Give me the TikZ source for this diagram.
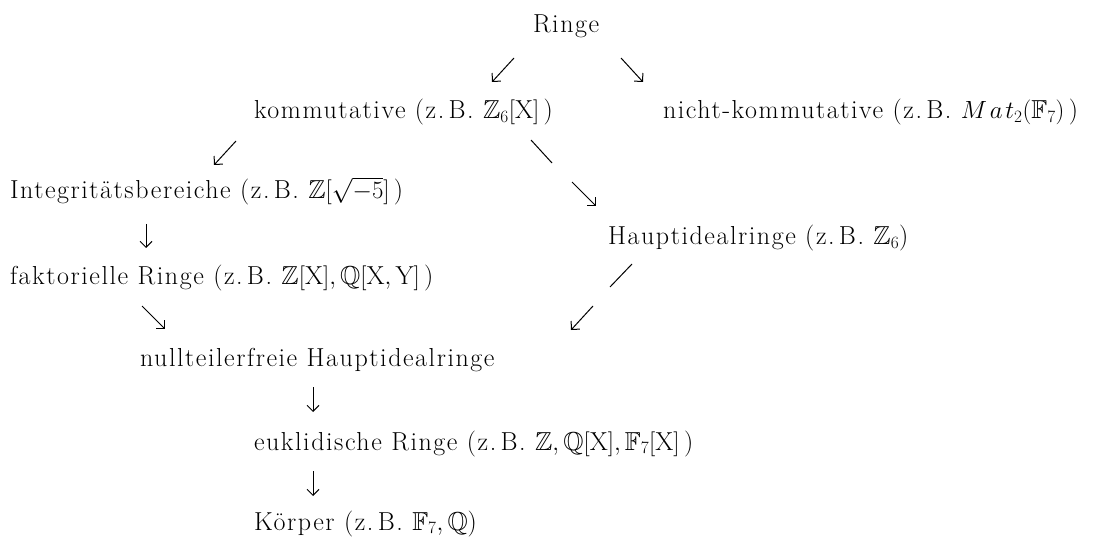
\documentclass[tikz,border=0pt]{standalone}
\usepackage{amsmath,amssymb}
\usepackage{fontspec}
\setmainfont{Latin Modern Roman}[LetterSpace=6]
\usetikzlibrary{arrows.meta}
\tikzset{
  lbl/.style={inner sep=0pt, outer sep=0pt, anchor=base west,
    font=\fontsize{26}{30}\selectfont},
  arr/.style={line width=1pt, -{Straight Barb[length=6pt,width=12pt]}},
  bar/.style={line width=1pt}
}
\begin{document}
\begin{tikzpicture}[x=1pt,y=-1pt]
\useasboundingbox (0,0) rectangle (1105,537);

% ring classes
\node[lbl] (ringe) at (533,33) {Ringe};
\node[lbl] (komm) at (254,119) {kommutative (z.\,B. $\mathbb{Z}_6[\mathrm{X}]$\,)};
\node[lbl] (nkomm) at (663,119) {nicht-kommutative (z.\,B. $M\mkern2mu a\mkern2mu t_2(\mathbb{F}_7)$\,)};
\node[lbl] (integ) at (10,199) {Integritätsbereiche (z.\,B. $\mathbb{Z}[\sqrt{-5}]$\,)};
\node[lbl] (hir) at (608,245) {Hauptidealringe (z.\,B. $\mathbb{Z}_6$)};
\node[lbl] (fakt) at (10,284) {faktorielle Ringe (z.\,B. $\mathbb{Z}[\mathrm{X}],\mathbb{Q}[\mathrm{X},\mathrm{Y}]$\,)};
\node[lbl] (nhir) at (140,366) {nullteilerfreie Hauptidealringe};
\node[lbl] (eukl) at (254,450) {euklidische Ringe (z.\,B. $\mathbb{Z},\mathbb{Q}[\mathrm{X}],\mathbb{F}_7[\mathrm{X}]$\,)};
\node[lbl] (koerp) at (254,530) {Körper (z.\,B. $\mathbb{F}_7,\mathbb{Q}$)};

% connector end points
\coordinate (r-k1) at (514,58);   \coordinate (r-k2) at (492,82);
\coordinate (r-n1) at (621,58);   \coordinate (r-n2) at (643,82);
\coordinate (k-i1) at (236,141);  \coordinate (k-i2) at (214,165);
\coordinate (k-h1) at (531,140);  \coordinate (k-h2) at (552,163);
\coordinate (k-h3) at (572,182);  \coordinate (k-h4) at (596,206);
\coordinate (i-f1) at (146,224);  \coordinate (i-f2) at (146,248);
\coordinate (h-n1) at (632,264);  \coordinate (h-n2) at (610,287);
\coordinate (h-n3) at (593,306);  \coordinate (h-n4) at (571,330);
\coordinate (f-n1) at (142,306);  \coordinate (f-n2) at (165,329);
\coordinate (n-e1) at (313,387);  \coordinate (n-e2) at (313,412);
\coordinate (e-k1) at (313,471);  \coordinate (e-k2) at (313,496);

% inclusions
\draw[arr] (r-k1) -- (r-k2);
\draw[arr] (r-n1) -- (r-n2);
\draw[arr] (k-i1) -- (k-i2);
\draw[bar] (k-h1) -- (k-h2);
\draw[arr] (k-h3) -- (k-h4);
\draw[arr] (i-f1) -- (i-f2);
\draw[bar] (h-n1) -- (h-n2);
\draw[arr] (h-n3) -- (h-n4);
\draw[arr] (f-n1) -- (f-n2);
\draw[arr] (n-e1) -- (n-e2);
\draw[arr] (e-k1) -- (e-k2);
\end{tikzpicture}
\end{document}
